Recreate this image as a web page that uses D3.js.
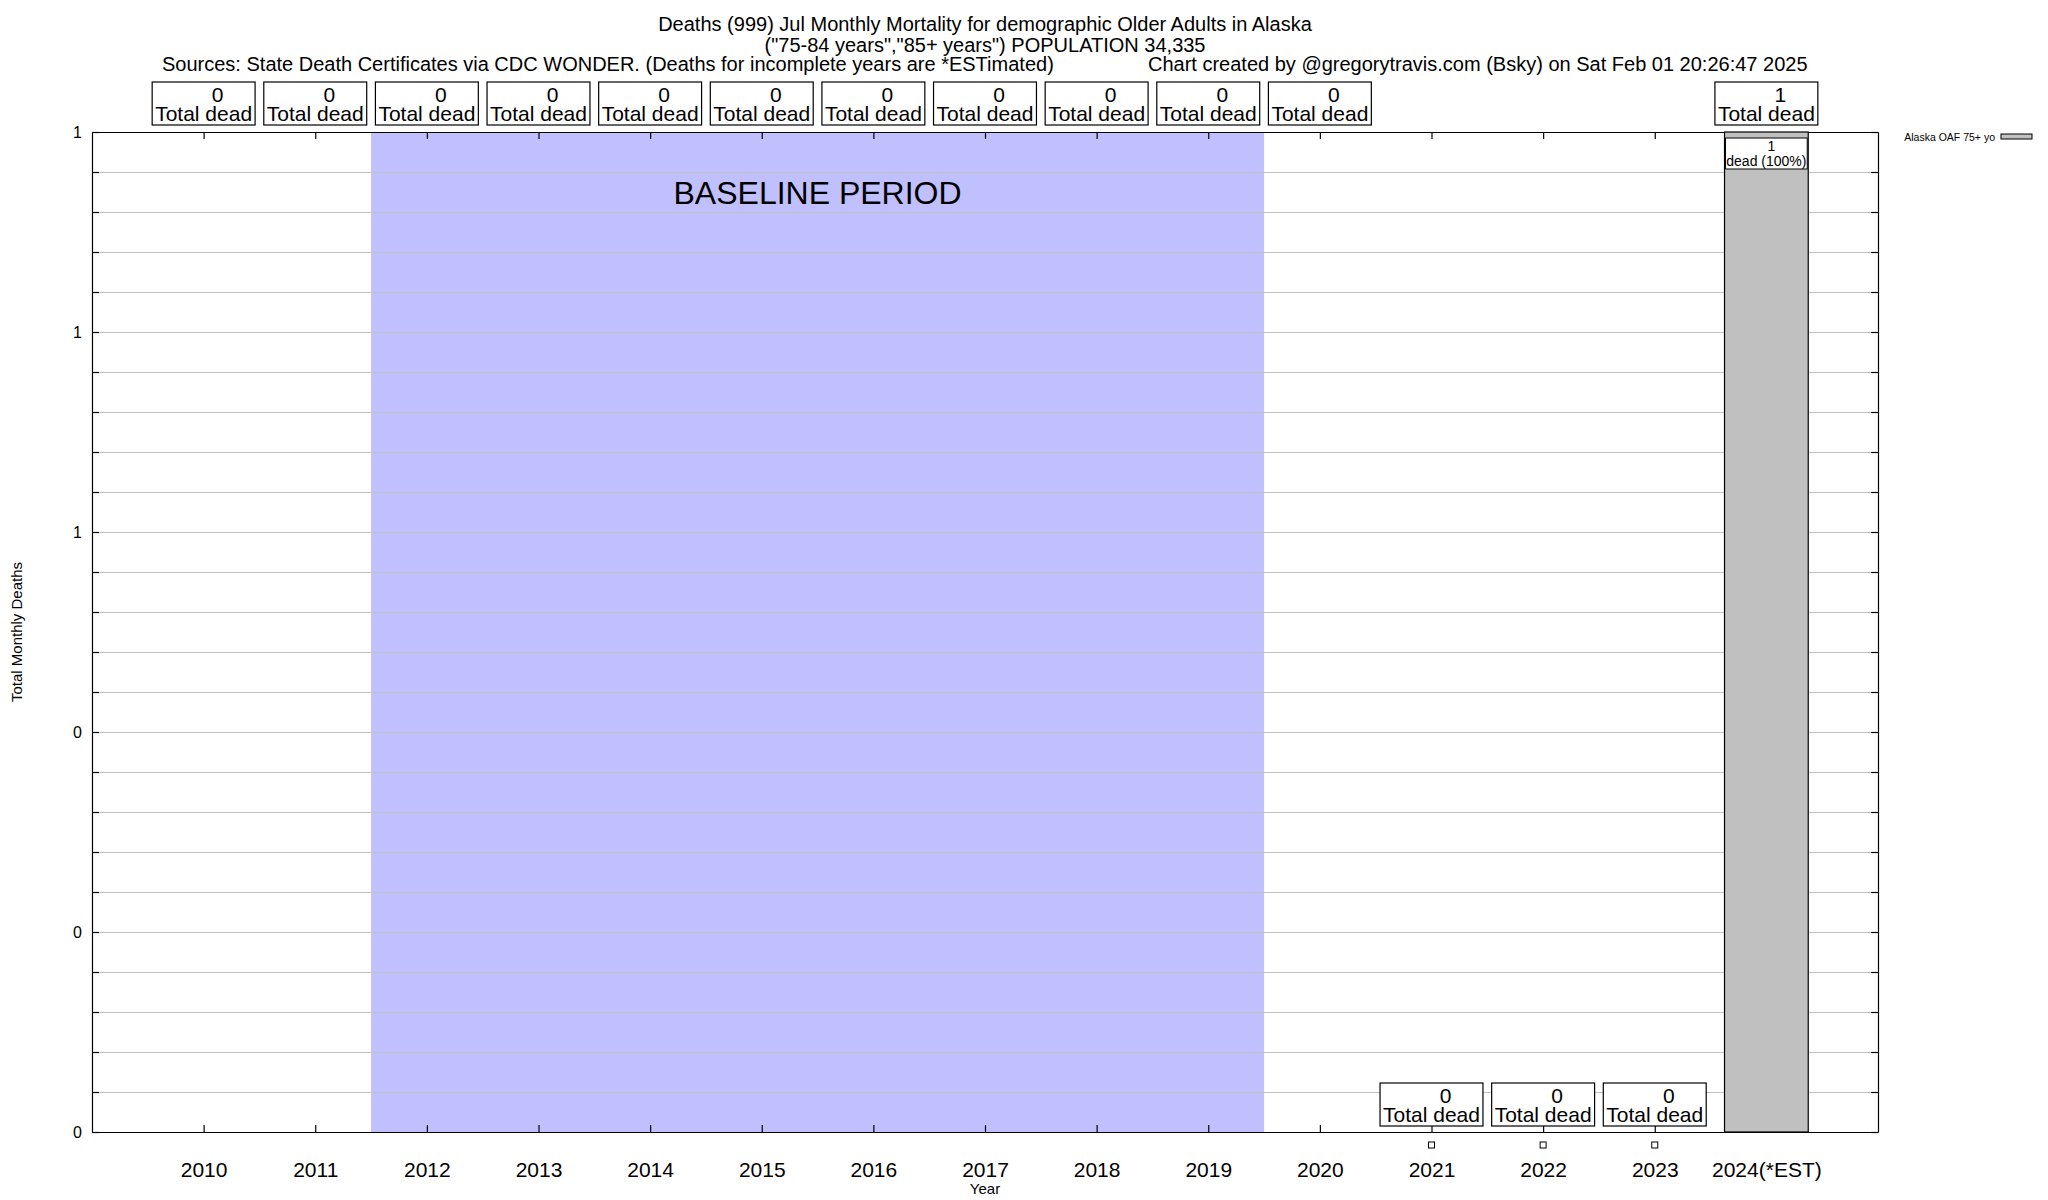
<!DOCTYPE html>
<html>
<head>
<meta charset="utf-8">
<script src="https://cdn.jsdelivr.net/npm/d3@7"></script>
<style>
  body { margin: 0; background: white; }
  text { font-family: "Liberation Sans", Arial, sans-serif; fill: #000; }
</style>
</head>
<body>
<div id="chart"></div>
<script>
// data
const years = ["2010", "2011", "2012", "2013", "2014", "2015", "2016", "2017", "2018", "2019", "2020", "2021", "2022", "2023", "2024(*EST)"]
const deaths = [0, 0, 0, 0, 0, 0, 0, 0, 0, 0, 0, 0, 0, 0, 1]
const baselineYears = ["2012", "2019"]
const lowLabelYears = ["2021", "2022", "2023"]
const yTickValues = [0, 0.2, 0.4, 0.6, 0.8, 1]
const seriesName = "Alaska OAF 75+ yo"
const titleLines = [
    "Deaths (999) Jul Monthly Mortality for demographic Older Adults in Alaska",
    "(\"75-84 years\",\"85+ years\") POPULATION 34,335"
]
const sourceText = "Sources: State Death Certificates via CDC WONDER. (Deaths for incomplete years are *ESTimated)"
const creditText = "Chart created by @gregorytravis.com (Bsky) on Sat Feb 01 20:26:47 2025"

function drawMortalityChart(selector) {
    const CONFIG = {
        width: 2048,
        height: 1200,
        margin: { top: 132, bottom: 68, left: 92, right: 170 }
    }
    const left = CONFIG.margin.left
    const right = CONFIG.width - CONFIG.margin.right
    const top = CONFIG.margin.top
    const bottom = CONFIG.height - CONFIG.margin.bottom

    const data = years.map((y, i) => ({ year: y, value: deaths[i] }))

    const svg = d3.select(selector)
        .append('svg')
        .attr('width', CONFIG.width)
        .attr('height', CONFIG.height)
        .style('background-color', 'white')

    const x = d3.scalePoint()
        .domain(years)
        .range([left, right])
        .padding(1)
    const step = x.step()

    const y = d3.scaleLinear()
        .domain([0, 1])
        .range([bottom, top])

    // baseline period shading
    svg.append('rect')
        .attr('x', x(baselineYears[0]) - step / 2)
        .attr('y', top)
        .attr('width', x(baselineYears[1]) - x(baselineYears[0]) + step)
        .attr('height', bottom - top)
        .attr('fill', '#c0c0ff')

    svg.append('text')
        .attr('x', (x(baselineYears[0]) + x(baselineYears[1])) / 2)
        .attr('y', top + 72)
        .attr('text-anchor', 'middle')
        .attr('font-size', '32px')
        .text('BASELINE PERIOD')

    // grid
    const gridVals = d3.range(1, 25).map((i) => i / 25)
    svg.append('g')
        .selectAll('line')
        .data(gridVals)
        .enter()
        .append('line')
        .attr('x1', left)
        .attr('x2', right)
        .attr('y1', (d) => y(d))
        .attr('y2', (d) => y(d))
        .attr('stroke', '#c0c0c0')
        .attr('stroke-width', 1)
        .attr('shape-rendering', 'crispEdges')

    // axes
    const allTicks = d3.range(0, 26).map((i) => i / 25)
    const fmt = d3.format('.0f')

    const yAxis = svg.append('g')
        .attr('transform', `translate(${left}, 0)`)
        .call(d3.axisLeft(y).tickValues(allTicks).tickSize(-7).tickSizeOuter(0).tickPadding(10)
            .tickFormat((d) => yTickValues.some((t) => Math.abs(t - d) < 1e-6) ? fmt(d) : ''))
    yAxis.selectAll('text').attr('font-size', '16px').attr('font-family', '"Liberation Sans", Arial, sans-serif')

    svg.append('g')
        .attr('transform', `translate(${right}, 0)`)
        .call(d3.axisRight(y).tickValues(allTicks).tickSize(-7).tickSizeOuter(0).tickFormat(''))

    const xAxis = svg.append('g')
        .attr('transform', `translate(0, ${bottom})`)
        .call(d3.axisBottom(x).tickSize(-7).tickSizeOuter(0).tickPadding(30))
    xAxis.selectAll('text').attr('font-size', '21px').attr('font-family', '"Liberation Sans", Arial, sans-serif')

    svg.append('g')
        .attr('transform', `translate(0, ${top})`)
        .call(d3.axisTop(x).tickSize(-7).tickSizeOuter(0).tickFormat(''))

    svg.selectAll('.domain, .tick line').attr('stroke', '#000').attr('stroke-width', 1.2)

    // bars (drawn over the ticks)
    const barW = step * 0.75
    svg.append('g')
        .selectAll('rect')
        .data(data.filter((d) => d.value > 0))
        .enter()
        .append('rect')
        .attr('x', (d) => x(d.year) - barW / 2)
        .attr('y', (d) => y(d.value))
        .attr('width', barW)
        .attr('height', (d) => y(0) - y(d.value))
        .attr('fill', '#c0c0c0')
        .attr('stroke', '#000')
        .attr('stroke-width', 1.2)

    // total dead boxes
    const boxH = 43
    const boxes = svg.append('g')
        .selectAll('g.total')
        .data(data)
        .enter()
        .append('g')
        .classed('total', true)
        .attr('transform', (d) => {
            const low = lowLabelYears.includes(d.year)
            const ty = low ? y(0) - 6 - boxH : y(1) - 7 - boxH
            return `translate(${x(d.year)}, ${ty})`
        })

    const boxRect = boxes.append('rect')
        .attr('fill', 'white')
        .attr('stroke', '#000')
        .attr('stroke-width', 1.2)

    // the count sits a little right of centre, like the original
    boxes.append('text')
        .attr('x', 14)
        .attr('y', 19.5)
        .attr('text-anchor', 'middle')
        .attr('font-size', '21px')
        .text((d) => d.value)
    boxes.append('text')
        .classed('lbl', true)
        .attr('y', 39)
        .attr('text-anchor', 'middle')
        .attr('font-size', '21px')
        .text('Total dead')

    boxRect.each(function () {
        const w = d3.select(this.parentNode).select('text.lbl').node().getComputedTextLength() + 6
        d3.select(this)
            .attr('x', -w / 2)
            .attr('width', w)
            .attr('height', boxH)
    })

    // markers under the axis for the low-label years
    svg.append('g')
        .selectAll('rect')
        .data(data.filter((d) => lowLabelYears.includes(d.year)))
        .enter()
        .append('rect')
        .attr('x', (d) => x(d.year) - 3)
        .attr('y', y(0) + 10)
        .attr('width', 6)
        .attr('height', 6)
        .attr('fill', 'white')
        .attr('stroke', '#000')
        .attr('stroke-width', 1)

    // label inside the bar
    const total = d3.sum(deaths)
    const inBar = svg.append('g')
        .selectAll('g')
        .data(data.filter((d) => d.value > 0))
        .enter()
        .append('g')
        .attr('transform', (d) => `translate(${x(d.year)}, ${y(d.value) + 6})`)
    inBar.append('rect')
        .attr('x', -barW / 2 + 1)
        .attr('width', barW - 2)
        .attr('height', 31)
        .attr('fill', 'white')
        .attr('stroke', '#000')
    inBar.append('text')
        .attr('x', 5)
        .attr('y', 13)
        .attr('text-anchor', 'middle')
        .attr('font-size', '14px')
        .text((d) => d.value)
    inBar.append('text')
        .attr('y', 27.5)
        .attr('text-anchor', 'middle')
        .attr('font-size', '14px')
        .text((d) => `dead (${Math.round(d.value / total * 100)}%)`)

    // legend
    svg.append('text')
        .attr('x', 1995)
        .attr('y', 141)
        .attr('text-anchor', 'end')
        .attr('font-size', '10.5px')
        .text(seriesName)
    svg.append('rect')
        .attr('x', 2001)
        .attr('y', 134)
        .attr('width', 31)
        .attr('height', 5)
        .attr('fill', '#c0c0c0')
        .attr('stroke', '#000')

    // titles
    svg.selectAll('text.title')
        .data(titleLines)
        .enter()
        .append('text')
        .classed('title', true)
        .attr('x', 985)
        .attr('y', (d, i) => 31 + i * 20.5)
        .attr('text-anchor', 'middle')
        .attr('font-size', '20px')
        .text((d) => d)
    svg.append('text')
        .attr('x', 162)
        .attr('y', 71)
        .attr('font-size', '20px')
        .text(sourceText)
    svg.append('text')
        .attr('x', 1148)
        .attr('y', 71)
        .attr('font-size', '20px')
        .text(creditText)

    // axis titles
    svg.append('text')
        .attr('transform', 'translate(22, 632) rotate(-90)')
        .attr('text-anchor', 'middle')
        .attr('font-size', '15px')
        .text('Total Monthly Deaths')
    svg.append('text')
        .attr('x', (left + right) / 2)
        .attr('y', 1194)
        .attr('text-anchor', 'middle')
        .attr('font-size', '15px')
        .text('Year')
}

drawMortalityChart('#chart')
</script>
</body>
</html>
